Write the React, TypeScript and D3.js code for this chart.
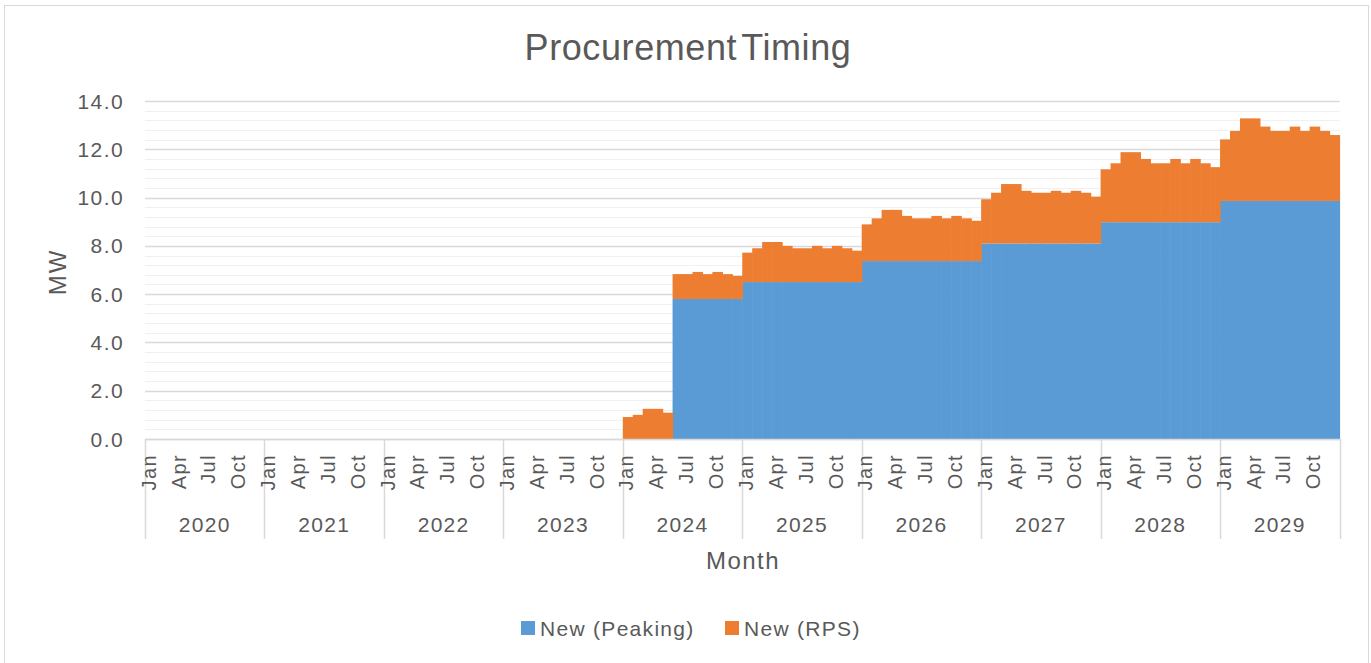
import React, { useEffect, useRef } from "react";
import * as d3 from "d3";

// categories
const years = [2020, 2021, 2022, 2023, 2024, 2025, 2026, 2027, 2028, 2029];
const monthNames = ["Jan", "Feb", "Mar", "Apr", "May", "Jun", "Jul", "Aug", "Sep", "Oct", "Nov", "Dec"];
const shownMonths = ["Jan", "Apr", "Jul", "Oct"];

// series (MW), one row of 12 months per year
const zeros = [0, 0, 0, 0, 0, 0, 0, 0, 0, 0, 0, 0];
const peaking = [
  zeros, zeros, zeros, zeros,
  [0, 0, 0, 0, 0, 5.8, 5.8, 5.8, 5.8, 5.8, 5.8, 5.8],
  [6.5, 6.5, 6.5, 6.5, 6.5, 6.5, 6.5, 6.5, 6.5, 6.5, 6.5, 6.5],
  [7.37, 7.37, 7.37, 7.37, 7.37, 7.37, 7.37, 7.37, 7.37, 7.37, 7.37, 7.37],
  [8.1, 8.1, 8.1, 8.1, 8.1, 8.1, 8.1, 8.1, 8.1, 8.1, 8.1, 8.1],
  [8.98, 8.98, 8.98, 8.98, 8.98, 8.98, 8.98, 8.98, 8.98, 8.98, 8.98, 8.98],
  [9.86, 9.86, 9.86, 9.86, 9.86, 9.86, 9.86, 9.86, 9.86, 9.86, 9.86, 9.86],
];
const rps = [
  zeros, zeros, zeros, zeros,
  [0.91, 1.0, 1.25, 1.25, 1.09, 1.03, 1.03, 1.12, 1.03, 1.12, 1.03, 0.96],
  [1.22, 1.4, 1.66, 1.66, 1.5, 1.4, 1.4, 1.5, 1.4, 1.5, 1.4, 1.3],
  [1.52, 1.77, 2.12, 2.12, 1.87, 1.77, 1.77, 1.87, 1.77, 1.87, 1.77, 1.67],
  [1.83, 2.1, 2.46, 2.46, 2.18, 2.1, 2.1, 2.18, 2.1, 2.18, 2.1, 1.94],
  [2.19, 2.44, 2.9, 2.9, 2.62, 2.44, 2.44, 2.62, 2.44, 2.62, 2.44, 2.28],
  [2.55, 2.9, 3.42, 3.42, 3.08, 2.9, 2.9, 3.08, 2.9, 3.08, 2.9, 2.73],
];
const yTicks = [0, 2, 4, 6, 8, 10, 12, 14];
const seriesNames = ["New (Peaking)", "New (RPS)"];
const seriesColors = ["#5b9bd5", "#ed7d31"];

const W = 1371;
const H = 663;
const FONT = "'Liberation Sans', Arial, sans-serif";
const TXT = "#595959";

const App: React.FC = () => {
  const svgRef = useRef<SVGSVGElement | null>(null);

  useEffect(() => {
    if (!svgRef.current) return;
    const svg = d3.select(svgRef.current);
    svg.selectAll("*").remove();

    const margin = { top: 101, left: 145, right: 1339.5, bottom: 439 };

    // flatten to one row per month
    const rows = years.flatMap((yr, yi) =>
      monthNames.map((m, mi) => ({
        key: `${yr}-${mi}`,
        year: yr,
        month: m,
        peaking: peaking[yi][mi],
        rps: rps[yi][mi],
      }))
    );

    const x = d3.scaleBand<string>()
      .domain(rows.map((r) => r.key))
      .range([margin.left, margin.right])
      .padding(0);
    const y = d3.scaleLinear().domain([0, 14]).range([margin.bottom, margin.top]);

    // outer border
    svg.append("rect")
      .attr("x", 4.5).attr("y", 5.5)
      .attr("width", 1364).attr("height", 670)
      .attr("fill", "white")
      .attr("stroke", "#d9d9d9");

    // minor gridlines
    const minor = d3.range(0, 14.01, 0.4);
    svg.append("g").selectAll("line")
      .data(minor)
      .enter().append("line")
      .attr("x1", margin.left).attr("x2", margin.right)
      .attr("y1", (d) => Math.round(y(d)) + 0.5)
      .attr("y2", (d) => Math.round(y(d)) + 0.5)
      .attr("stroke", "#f0f0f0");

    // major gridlines
    svg.append("g").selectAll("line")
      .data(yTicks)
      .enter().append("line")
      .attr("x1", margin.left).attr("x2", margin.right)
      .attr("y1", (d) => Math.round(y(d)) + 0.5)
      .attr("y2", (d) => Math.round(y(d)) + 0.5)
      .attr("stroke", "#d9d9d9")
      .attr("stroke-width", 1.3);

    // stacked columns
    const stack = d3.stack<any>().keys(["peaking", "rps"]);
    const layers = stack(rows);
    layers.forEach((layer, li) => {
      svg.append("g")
        .selectAll("rect")
        .data(layer.filter((d) => d[1] - d[0] > 0))
        .enter().append("rect")
        .attr("x", (d) => x(d.data.key) ?? 0)
        .attr("width", x.bandwidth() + 0.6)
        .attr("y", (d) => y(d[1]))
        .attr("height", (d) => y(d[0]) - y(d[1]))
        .attr("fill", seriesColors[li]);
    });

    // y tick labels
    svg.append("g").selectAll("text")
      .data(yTicks)
      .enter().append("text")
      .attr("x", 124)
      .attr("y", (d) => y(d))
      .attr("dy", "0.36em")
      .attr("text-anchor", "end")
      .style("font-family", FONT)
      .style("font-size", "21px")
      .style("letter-spacing", "1.4px")
      .attr("fill", TXT)
      .text((d) => d.toFixed(1));

    // y axis title
    svg.append("text")
      .attr("transform", `translate(57,272) rotate(-90)`)
      .attr("dy", "0.36em")
      .attr("text-anchor", "middle")
      .style("font-family", FONT)
      .style("font-size", "24px")
      .style("letter-spacing", "2px")
      .attr("fill", TXT)
      .text("MW");

    // category axis frame
    const frame = svg.append("g");
    frame.append("line")
      .attr("x1", margin.left).attr("x2", margin.right)
      .attr("y1", margin.bottom + 0.5).attr("y2", margin.bottom + 0.5)
      .attr("stroke", "#d9d9d9").attr("stroke-width", 1.5);
    const yearEdges = years.map((yr) => x(`${yr}-0`) ?? 0).concat([margin.right]);
    frame.selectAll("line.sep")
      .data(yearEdges)
      .enter().append("line")
      .attr("class", "sep")
      .attr("x1", (d) => Math.round(d) + 0.5).attr("x2", (d) => Math.round(d) + 0.5)
      .attr("y1", margin.bottom).attr("y2", 539)
      .attr("stroke", "#d9d9d9").attr("stroke-width", 1.5);

    // month labels
    svg.append("g").selectAll("text")
      .data(rows.filter((r) => shownMonths.includes(r.month)))
      .enter().append("text")
      .attr("transform", (d) => `translate(${(x(d.key) ?? 0) + x.bandwidth() / 2 - 1.5},454) rotate(-90)`)
      .attr("dy", "0.36em")
      .attr("text-anchor", "end")
      .style("font-family", FONT)
      .style("font-size", "20px")
      .style("letter-spacing", "1.4px")
      .attr("fill", TXT)
      .text((d) => d.month);

    // year labels
    svg.append("g").selectAll("text")
      .data(years)
      .enter().append("text")
      .attr("x", (d, i) => (yearEdges[i] + yearEdges[i + 1]) / 2)
      .attr("y", 524)
      .attr("dy", "0.36em")
      .attr("text-anchor", "middle")
      .style("font-family", FONT)
      .style("font-size", "21px")
      .style("letter-spacing", "1.3px")
      .attr("fill", TXT)
      .text((d) => String(d));

    // x axis title
    svg.append("text")
      .attr("x", 743).attr("y", 560)
      .attr("dy", "0.36em")
      .attr("text-anchor", "middle")
      .style("font-family", FONT)
      .style("font-size", "24px")
      .style("letter-spacing", "1.5px")
      .attr("fill", TXT)
      .text("Month");

    // title
    svg.append("text")
      .attr("x", 688).attr("y", 47)
      .attr("dy", "0.36em")
      .attr("text-anchor", "middle")
      .style("font-family", FONT)
      .style("font-size", "36px")
      .style("letter-spacing", "0.6px")
      .style("word-spacing", "-6px")
      .attr("fill", TXT)
      .text("Procurement Timing");

    // legend
    const legend = svg.append("g");
    const legendX = [521, 725];
    seriesNames.forEach((name, i) => {
      legend.append("rect")
        .attr("x", legendX[i]).attr("y", 621)
        .attr("width", 14).attr("height", 14)
        .attr("fill", seriesColors[i]);
      legend.append("text")
        .attr("x", legendX[i] + 19).attr("y", 628)
        .attr("dy", "0.36em")
        .style("font-family", FONT)
        .style("font-size", "21px")
        .style("letter-spacing", "1.3px")
        .attr("fill", TXT)
        .text(name);
    });
  }, []);

  return (
    <div style={{ position: "absolute", left: 0, top: 0, width: W, height: H, overflow: "hidden", background: "white" }}>
      <svg ref={svgRef} width={W} height={H} />
    </div>
  );
};

export default App;
